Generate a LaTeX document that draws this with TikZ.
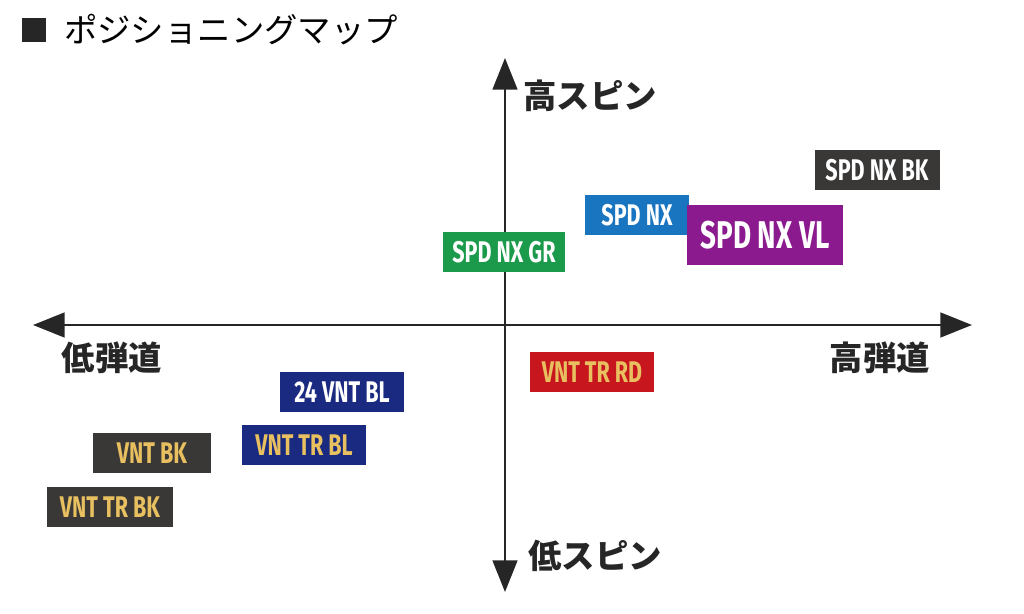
\documentclass[tikz,border=0pt]{standalone}
\usepackage{fontspec}
\newfontfamily\cjk{Noto Sans CJK JP}
\newfontfamily\cond[FakeStretch=0.72]{Fira Sans}
\usetikzlibrary{arrows.meta,positioning}
\definecolor{bkgray}{HTML}{3A3837}
\definecolor{nxblue}{HTML}{1A75C0}
\definecolor{nxviolet}{HTML}{8B1A8F}
\definecolor{nxgreen}{HTML}{1A9A4A}
\definecolor{trred}{HTML}{C8161E}
\definecolor{blnavy}{HTML}{1A2A80}
\definecolor{txyellow}{HTML}{E8C060}
\begin{document}
\begin{tikzpicture}[x=0.02cm,y=-0.02cm,>={Triangle[length=18pt,width=14pt]},
  axis/.style={line width=1.6pt,black!85,<->},
  ball/.style={inner sep=0pt,minimum height=0.8cm,text=white,font=\cond\bfseries\fontsize{17}{17}\selectfont},
  yel/.style={text=txyellow},
  axlabel/.style={font=\cjk\bfseries\fontsize{19}{19}\selectfont,text=black!85}
  ]
\useasboundingbox (0,0) rectangle (1024,614);
% title
\fill[black!85] (22,18) rectangle (46,42);
\node[anchor=west,font=\cjk\fontsize{19}{19}\selectfont] (title) at (58,30) {ポジショニングマップ};
% axes
\coordinate (top) at (505,58);
\coordinate (bottom) at (505,592);
\coordinate (left) at (33,325);
\coordinate (right) at (972,325);
\draw[axis] (top) -- (bottom);
\draw[axis] (left) -- (right);
\node[axlabel] (hispin) at (590,96) {高スピン};
\node[axlabel] (lospin) at (595,556) {低スピン};
\node[axlabel] (lotraj) at (112,358) {低弾道};
\node[axlabel] (hitraj) at (880,358) {高弾道};
% balls
\node[ball,fill=bkgray,minimum width=2.5cm] (nxbk) at (877,170) {SPD NX BK};
\node[ball,fill=nxblue,minimum width=2.1cm] (nx) at (637,215) {SPD NX};
\node[ball,fill=nxviolet,minimum width=3.12cm,minimum height=1.2cm,font=\cond\bfseries\fontsize{22}{22}\selectfont] (nxvl) at (765,235) {SPD NX VL};
\node[ball,fill=nxgreen,minimum width=2.44cm] (nxgr) at (504,252) {SPD NX GR};
\node[ball,yel,fill=trred,minimum width=2.5cm] (trrd) at (592,372) {VNT TR RD};
\node[ball,fill=blnavy,minimum width=2.5cm] (vntbl) at (342,392) {24 VNT BL};
\node[ball,yel,fill=blnavy,minimum width=2.5cm] (trbl) at (304,445) {VNT TR BL};
\node[ball,yel,fill=bkgray,minimum width=2.38cm] (vntbk) at (152,453) {VNT BK};
\node[ball,yel,fill=bkgray,minimum width=2.52cm] (trbk) at (110,507) {VNT TR BK};
\end{tikzpicture}
\end{document}
